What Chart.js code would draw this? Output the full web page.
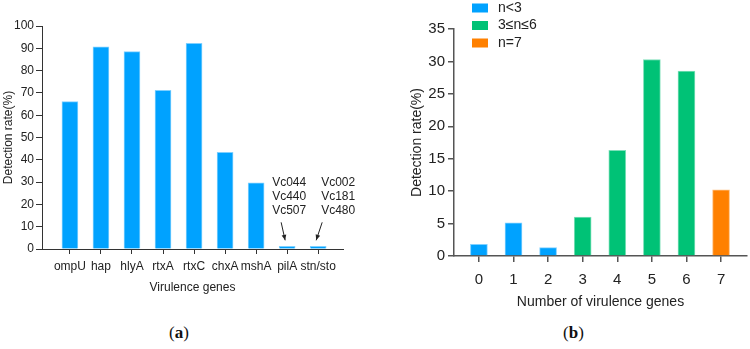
<!DOCTYPE html>
<html>
<head>
<meta charset="utf-8">
<script src="https://cdn.jsdelivr.net/npm/chart.js@4"></script>
<style>
  body { margin: 0; background: #fff; width: 750px; height: 349px; position: relative; overflow: hidden; }
  #wrapA { position: absolute; left: 0; top: 0; width: 375px; height: 300px; }
  #wrapB { position: absolute; left: 375px; top: 0; width: 375px; height: 312px; }
  .cap { position: absolute; top: 323px; font-family: "Liberation Serif", "DejaVu Serif", serif; font-size: 17px; color: #111; }
</style>
</head>
<body>
<div id="wrapA"><canvas id="chartA" width="375" height="300"></canvas></div>
<div id="wrapB"><canvas id="chartB" width="375" height="312"></canvas></div>
<div class="cap" style="left:169px">(<b>a</b>)</div>
<div class="cap" style="left:563px">(<b>b</b>)</div>
<script>
// panel (a): detection rate of each gene
var geneLabels = ['ompU', 'hap', 'hlyA', 'rtxA', 'rtxC', 'chxA', 'mshA', 'pilA', 'stn/sto'];
var geneRates = [66.1, 90.7, 88.5, 71.2, 92.2, 43.3, 29.7, 1.2, 1.2];
var pilAStrains = ['Vc044', 'Vc440', 'Vc507'];
var stnStrains = ['Vc002', 'Vc181', 'Vc480'];

// panel (b): number of virulence genes per strain
var countLabels = ['0', '1', '2', '3', '4', '5', '6', '7'];
var countRates = [1.8, 5.1, 1.3, 6.0, 16.3, 30.3, 28.5, 10.2];
var groupNames = ['n<3', '3\u2264n\u22646', 'n=7'];
var groupOf = [0, 0, 0, 1, 1, 1, 1, 2];
var groupColors = ['#00A2FF', '#00C276', '#FF8000'];

Chart.defaults.font.family = '"Liberation Sans", Arial, sans-serif';
Chart.defaults.color = '#222';
Chart.defaults.animation = false;

// arrows + strain names above the two tiny bars
var strainNotes = {
    id: 'strainNotes',
    afterDatasetsDraw: function (chart) {
        var ctx = chart.ctx, xs = chart.scales.x, ys = chart.scales.y;
        var notes = [
            {idx: 7, names: pilAStrains, dx: -15, ax0: -6, ax1: -2},
            {idx: 8, names: stnStrains, dx: 3, ax0: 4, ax1: -2}
        ];
        ctx.save();
        ctx.font = '12px "Liberation Sans", Arial, sans-serif';
        ctx.fillStyle = '#222';
        ctx.strokeStyle = '#222';
        ctx.textBaseline = 'middle';
        notes.forEach(function (n) {
            var cx = xs.getPixelForValue(n.idx);
            var top = ys.getPixelForValue(geneRates[n.idx]);
            n.names.forEach(function (s, i) {
                ctx.fillText(s, cx + n.dx, top - 64 + i * 14);
            });
            var x0 = cx + n.ax0, y0 = top - 24, x1 = cx + n.ax1, y1 = top - 6;
            ctx.lineWidth = 1;
            ctx.beginPath(); ctx.moveTo(x0, y0); ctx.lineTo(x1, y1); ctx.stroke();
            var a = Math.atan2(y1 - y0, x1 - x0);
            ctx.beginPath();
            ctx.moveTo(x1, y1);
            ctx.lineTo(x1 - 6 * Math.cos(a - 0.4), y1 - 6 * Math.sin(a - 0.4));
            ctx.lineTo(x1 - 6 * Math.cos(a + 0.4), y1 - 6 * Math.sin(a + 0.4));
            ctx.closePath(); ctx.fill();
        });
        ctx.restore();
    }
};

var groupLegend = {
    id: 'groupLegend',
    afterDraw: function (chart) {
        var ctx = chart.ctx;
        ctx.save();
        ctx.font = '14px "Liberation Sans", Arial, sans-serif';
        ctx.textBaseline = 'middle';
        groupNames.forEach(function (g, i) {
            var y = 8 + i * 17.5;
            ctx.fillStyle = groupColors[i];
            ctx.fillRect(97, y - 4.5, 16, 9);
            ctx.fillStyle = '#222';
            ctx.fillText(g, 123, y);
        });
        ctx.restore();
    }
};

var ctxA = document.getElementById('chartA').getContext('2d');
var chartA = new Chart(ctxA, {
    type: 'bar',
    data: {
        datasets: [{
            data: geneRates.map(function (v, i) { return {x: i, y: v}; }),
            backgroundColor: '#00A2FF',
            borderColor: '#7FD0FF',
            borderWidth: 1,
            barThickness: 16
        }]
    },
    options: {
        responsive: false,
        layout: {padding: {left: 0, top: 26, right: 32, bottom: 0}},
        plugins: {legend: {display: false}, tooltip: {enabled: false}},
        scales: {
            x: {
                type: 'linear', min: -0.9, max: 8.8, offset: false,
                afterBuildTicks: function (s) { s.ticks = geneLabels.map(function (_, i) { return {value: i}; }); },
                afterFit: function (s) { s.height = 51; },
                ticks: {autoSkip: false, maxRotation: 0, padding: 5, font: {size: 12},
                    callback: function (v) { return geneLabels[v]; }},
                grid: {offset: false, drawOnChartArea: false, tickLength: 5, color: '#333'},
                border: {color: '#333', width: 1},
                title: {display: true, text: 'Virulence genes', font: {size: 12}, padding: {top: 0, bottom: 5}}
            },
            y: {
                min: 0, max: 100,
                afterFit: function (s) { s.width = 42; },
                ticks: {stepSize: 10, padding: 2, font: {size: 12}},
                grid: {drawOnChartArea: false, tickLength: 6, color: '#333'},
                border: {color: '#333', width: 1},
                title: {display: true, text: 'Detection rate(%)', font: {size: 12}, padding: {top: 1, bottom: 0}}
            }
        }
    },
    plugins: [strainNotes]
});

var ctxB = document.getElementById('chartB').getContext('2d');
var chartB = new Chart(ctxB, {
    type: 'bar',
    data: {
        datasets: [{
            data: countRates.map(function (v, i) { return {x: i, y: v}; }),
            backgroundColor: groupOf.map(function (g) { return groupColors[g]; }),
            borderColor: ['#7FD0FF', '#7FD0FF', '#7FD0FF', '#7FE0BA', '#7FE0BA', '#7FE0BA', '#7FE0BA', '#FFBF7F'],
            borderWidth: 1,
            barThickness: 17
        }]
    },
    options: {
        responsive: false,
        layout: {padding: {left: 0, top: 29, right: 3, bottom: 0}},
        plugins: {legend: {display: false}, tooltip: {enabled: false}},
        scales: {
            x: {
                type: 'linear', min: -0.72, max: 7.75, offset: false,
                afterBuildTicks: function (s) { s.ticks = countLabels.map(function (_, i) { return {value: i}; }); },
                afterFit: function (s) { s.height = 56; },
                ticks: {autoSkip: false, maxRotation: 0, padding: 9, font: {size: 15},
                    callback: function (v) { return countLabels[v]; }},
                grid: {offset: false, drawOnChartArea: false, tickLength: 6, color: '#555', lineWidth: 1.5},
                border: {color: '#555', width: 1.5},
                title: {display: true, text: 'Number of virulence genes', font: {size: 14}, padding: {top: 0, bottom: 1}}
            },
            y: {
                min: 0, max: 35,
                afterFit: function (s) { s.width = 79; },
                ticks: {stepSize: 5, padding: 3, font: {size: 15}},
                grid: {drawOnChartArea: false, tickLength: 6, color: '#555', lineWidth: 1.5},
                border: {color: '#555', width: 1.5},
                title: {display: true, text: 'Detection rate(%)', font: {size: 14}, padding: {top: 34, bottom: 0}}
            }
        }
    },
    plugins: [groupLegend]
});
</script>
</body>
</html>
